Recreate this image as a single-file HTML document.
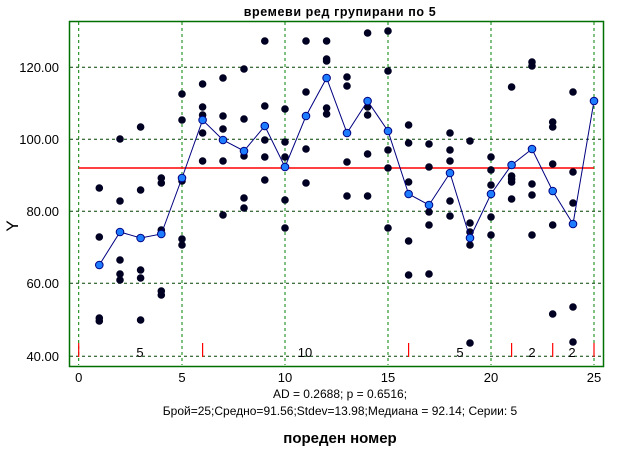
<!DOCTYPE html>
<html><head><meta charset="utf-8"><style>
html,body{margin:0;padding:0;background:#fff;}
svg{display:block;font-family:"Liberation Sans",sans-serif;}
</style></head><body>
<svg width="624" height="450" viewBox="0 0 624 450" xmlns="http://www.w3.org/2000/svg">
<rect width="624" height="450" fill="#fff"/>
<text x="340" y="16" font-size="12.5" font-weight="bold" text-anchor="middle" letter-spacing="0.6">времеви ред групирани по 5</text>
<g stroke="#008000" stroke-dasharray="3,3" stroke-width="1">
<line x1="78.7" y1="22" x2="78.7" y2="365"/>
<line x1="182" y1="22" x2="182" y2="365"/>
<line x1="285" y1="22" x2="285" y2="365"/>
<line x1="388" y1="22" x2="388" y2="365"/>
<line x1="491" y1="22" x2="491" y2="365"/>
<line x1="594" y1="22" x2="594" y2="365"/>
</g>
<g stroke="#004000" stroke-dasharray="3,3" stroke-width="1">
<line x1="70" y1="67.3" x2="603" y2="67.3"/>
<line x1="70" y1="139.3" x2="603" y2="139.3"/>
<line x1="70" y1="211.3" x2="603" y2="211.3"/>
<line x1="70" y1="283.3" x2="603" y2="283.3"/>
<line x1="70" y1="356.3" x2="603" y2="356.3"/>
</g>
<rect x="69.5" y="21.5" width="534" height="345" fill="none" stroke="#007000" stroke-width="1.5"/>
<line x1="78.7" y1="168" x2="594" y2="168" stroke="#ff0000" stroke-width="1.5"/>
<g stroke="#ff0000" stroke-width="1.2">
<line x1="78.7" y1="343" x2="78.7" y2="357"/>
<line x1="202.6" y1="343" x2="202.6" y2="357"/>
<line x1="408.6" y1="343" x2="408.6" y2="357"/>
<line x1="511.6" y1="343" x2="511.6" y2="357"/>
<line x1="552.7" y1="343" x2="552.7" y2="357"/>
<line x1="594" y1="343" x2="594" y2="357"/>
</g>
<g font-size="13" fill="#000" text-anchor="middle">
<text x="140" y="357">5</text><text x="305" y="357">10</text><text x="460" y="357">5</text><text x="532" y="357">2</text><text x="572" y="357">2</text>
</g>
<g fill="#000022">
<circle cx="99.3" cy="188" r="3.8"/><circle cx="99.3" cy="237" r="3.8"/><circle cx="99.3" cy="318" r="3.8"/><circle cx="99.3" cy="321" r="3.8"/>
<circle cx="120" cy="139" r="3.8"/><circle cx="120" cy="201" r="3.8"/><circle cx="120" cy="260" r="3.8"/><circle cx="120" cy="274" r="3.8"/><circle cx="120" cy="280" r="3.8"/>
<circle cx="140.6" cy="127" r="3.8"/><circle cx="140.6" cy="190" r="3.8"/><circle cx="140.6" cy="270" r="3.8"/><circle cx="140.6" cy="278" r="3.8"/><circle cx="140.6" cy="320" r="3.8"/>
<circle cx="161.3" cy="178" r="3.8"/><circle cx="161.3" cy="183" r="3.8"/><circle cx="161.3" cy="230" r="3.8"/><circle cx="161.3" cy="291" r="3.8"/><circle cx="161.3" cy="295" r="3.8"/>
<circle cx="182" cy="94" r="3.8"/><circle cx="182" cy="120" r="3.8"/><circle cx="182" cy="181" r="3.8"/><circle cx="182" cy="239" r="3.8"/><circle cx="182" cy="245" r="3.8"/>
<circle cx="202.6" cy="84" r="3.8"/><circle cx="202.6" cy="107" r="3.8"/><circle cx="202.6" cy="115" r="3.8"/><circle cx="202.6" cy="133" r="3.8"/><circle cx="202.6" cy="161" r="3.8"/>
<circle cx="223" cy="78" r="3.8"/><circle cx="223" cy="116" r="3.8"/><circle cx="223" cy="129" r="3.8"/><circle cx="223" cy="161" r="3.8"/><circle cx="223" cy="215" r="3.8"/>
<circle cx="244" cy="69" r="3.8"/><circle cx="244" cy="119" r="3.8"/><circle cx="244" cy="156" r="3.8"/><circle cx="244" cy="198" r="3.8"/><circle cx="244" cy="208" r="3.8"/>
<circle cx="264.8" cy="41" r="3.8"/><circle cx="264.8" cy="106" r="3.8"/><circle cx="264.8" cy="140" r="3.8"/><circle cx="264.8" cy="157" r="3.8"/><circle cx="264.8" cy="180" r="3.8"/>
<circle cx="285" cy="109" r="3.8"/><circle cx="285" cy="142" r="3.8"/><circle cx="285" cy="157" r="3.8"/><circle cx="285" cy="200" r="3.8"/><circle cx="285" cy="228" r="3.8"/>
<circle cx="306" cy="41" r="3.8"/><circle cx="306" cy="92" r="3.8"/><circle cx="306" cy="149" r="3.8"/><circle cx="306" cy="183" r="3.8"/>
<circle cx="326.6" cy="41" r="3.8"/><circle cx="326.6" cy="59" r="3.8"/><circle cx="326.6" cy="61" r="3.8"/><circle cx="326.6" cy="108" r="3.8"/><circle cx="326.6" cy="114" r="3.8"/>
<circle cx="347" cy="77" r="3.8"/><circle cx="347" cy="86" r="3.8"/><circle cx="347" cy="162" r="3.8"/><circle cx="347" cy="196" r="3.8"/>
<circle cx="367.6" cy="33" r="3.8"/><circle cx="367.6" cy="107" r="3.8"/><circle cx="367.6" cy="115" r="3.8"/><circle cx="367.6" cy="154" r="3.8"/><circle cx="367.6" cy="196" r="3.8"/>
<circle cx="388" cy="31" r="3.8"/><circle cx="388" cy="71" r="3.8"/><circle cx="388" cy="150" r="3.8"/><circle cx="388" cy="168" r="3.8"/><circle cx="388" cy="228" r="3.8"/>
<circle cx="408.6" cy="125" r="3.8"/><circle cx="408.6" cy="143" r="3.8"/><circle cx="408.6" cy="182" r="3.8"/><circle cx="408.6" cy="241" r="3.8"/><circle cx="408.6" cy="275" r="3.8"/>
<circle cx="429" cy="144" r="3.8"/><circle cx="429" cy="167" r="3.8"/><circle cx="429" cy="212" r="3.8"/><circle cx="429" cy="225" r="3.8"/><circle cx="429" cy="274" r="3.8"/>
<circle cx="450" cy="133" r="3.8"/><circle cx="450" cy="150" r="3.8"/><circle cx="450" cy="161" r="3.8"/><circle cx="450" cy="201" r="3.8"/><circle cx="450" cy="216" r="3.8"/>
<circle cx="470" cy="141" r="3.8"/><circle cx="470" cy="223" r="3.8"/><circle cx="470" cy="232" r="3.8"/><circle cx="470" cy="245" r="3.8"/><circle cx="470" cy="343" r="3.8"/>
<circle cx="491" cy="157" r="3.8"/><circle cx="491" cy="170" r="3.8"/><circle cx="491" cy="185" r="3.8"/><circle cx="491" cy="217" r="3.8"/><circle cx="491" cy="235" r="3.8"/>
<circle cx="511.6" cy="87" r="3.8"/><circle cx="511.6" cy="176" r="3.8"/><circle cx="511.6" cy="179" r="3.8"/><circle cx="511.6" cy="182" r="3.8"/><circle cx="511.6" cy="199" r="3.8"/>
<circle cx="532" cy="62" r="3.8"/><circle cx="532" cy="66" r="3.8"/><circle cx="532" cy="184" r="3.8"/><circle cx="532" cy="195" r="3.8"/><circle cx="532" cy="235" r="3.8"/>
<circle cx="552.7" cy="122" r="3.8"/><circle cx="552.7" cy="127" r="3.8"/><circle cx="552.7" cy="164" r="3.8"/><circle cx="552.7" cy="225" r="3.8"/><circle cx="552.7" cy="314" r="3.8"/>
<circle cx="573" cy="92" r="3.8"/><circle cx="573" cy="172" r="3.8"/><circle cx="573" cy="203" r="3.8"/><circle cx="573" cy="307" r="3.8"/><circle cx="573" cy="342" r="3.8"/>
</g>
<polyline fill="none" stroke="#000080" stroke-width="1" points="99.3,265 120,232 140.6,238 161.3,234 182,178 202.6,120 223,140 244,151 264.8,126 285,167 306,116 326.6,78 347,133 367.6,101 388,131 408.6,194 429,205 450,173 470,238 491,194 511.6,165 532,149 552.7,191 573,224 594,101"/>
<g fill="#1e7cff" stroke="#000080" stroke-width="1">
<circle cx="99.3" cy="265" r="3.8"/><circle cx="120" cy="232" r="3.8"/><circle cx="140.6" cy="238" r="3.8"/><circle cx="161.3" cy="234" r="3.8"/><circle cx="182" cy="178" r="3.8"/><circle cx="202.6" cy="120" r="3.8"/><circle cx="223" cy="140" r="3.8"/><circle cx="244" cy="151" r="3.8"/><circle cx="264.8" cy="126" r="3.8"/><circle cx="285" cy="167" r="3.8"/><circle cx="306" cy="116" r="3.8"/><circle cx="326.6" cy="78" r="3.8"/><circle cx="347" cy="133" r="3.8"/><circle cx="367.6" cy="101" r="3.8"/><circle cx="388" cy="131" r="3.8"/><circle cx="408.6" cy="194" r="3.8"/><circle cx="429" cy="205" r="3.8"/><circle cx="450" cy="173" r="3.8"/><circle cx="470" cy="238" r="3.8"/><circle cx="491" cy="194" r="3.8"/><circle cx="511.6" cy="165" r="3.8"/><circle cx="532" cy="149" r="3.8"/><circle cx="552.7" cy="191" r="3.8"/><circle cx="573" cy="224" r="3.8"/><circle cx="594" cy="101" r="3.8"/>
</g>
<g font-size="13" text-anchor="end" fill="#000">
<text x="59" y="72">120.00</text><text x="59" y="144">100.00</text><text x="59" y="216">80.00</text><text x="59" y="288">60.00</text><text x="59" y="361">40.00</text>
</g>
<text x="18" y="226" font-size="17" text-anchor="middle" transform="rotate(-90 18 226)">Y</text>
<g font-size="13" text-anchor="middle" fill="#000">
<text x="78.7" y="382">0</text><text x="182" y="382">5</text><text x="285" y="382">10</text><text x="388" y="382">15</text><text x="491" y="382">20</text><text x="594" y="382">25</text>
</g>
<text x="340" y="398" font-size="12" text-anchor="middle">AD = 0.2688; p = 0.6516;</text>
<text x="340" y="415" font-size="12" text-anchor="middle">Брой=25;Средно=91.56;Stdev=13.98;Медиана = 92.14; Серии: 5</text>
<text x="340" y="443" font-size="15" font-weight="bold" text-anchor="middle">пореден номер</text>
</svg>
</body></html>
